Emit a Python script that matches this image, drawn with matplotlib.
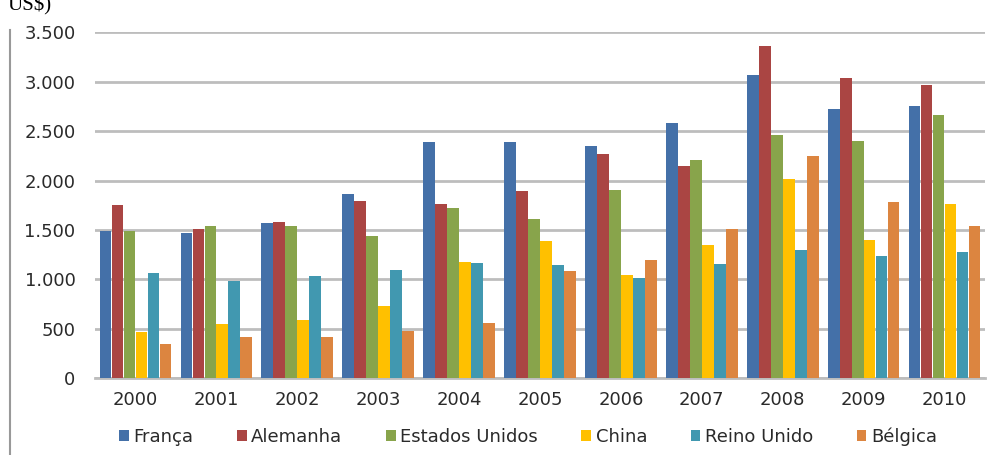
import numpy as np
import matplotlib
matplotlib.use("Agg")
import matplotlib.pyplot as plt
from matplotlib.ticker import FuncFormatter, MultipleLocator

years = ["2000", "2001", "2002", "2003", "2004", "2005",
         "2006", "2007", "2008", "2009", "2010"]

franca = [1490, 1470, 1570, 1860, 2390, 2390, 2350, 2580, 3070, 2720, 2750]
alemanha = [1750, 1510, 1580, 1790, 1760, 1890, 2270, 2150, 3360, 3040, 2970]
estados_unidos = [1490, 1540, 1540, 1440, 1720, 1610, 1900, 2210, 2460, 2400, 2660]
china = [470, 550, 590, 730, 1180, 1390, 1040, 1350, 2020, 1400, 1760]
reino_unido = [1060, 980, 1030, 1090, 1160, 1140, 1010, 1150, 1300, 1240, 1280]
belgica = [345, 420, 420, 480, 560, 1080, 1200, 1510, 2250, 1780, 1540]

series_names = ["França", "Alemanha", "Estados Unidos", "China", "Reino Unido", "Bélgica"]
series_values = [franca, alemanha, estados_unidos, china, reino_unido, belgica]
colors = ["#4470A8", "#AA4543", "#88A44B", "#FFC000", "#4198B0", "#DC8540"]

plt.rcParams["font.family"] = ["DejaVu Sans"]

fig = plt.figure(figsize=(10, 4.55), dpi=100)
ax = fig.add_axes([0.095, 0.169, 0.89, 0.76])

x = np.arange(len(years))
n = len(series_values)
width = 0.148
for i, (name, vals, c) in enumerate(zip(series_names, series_values, colors)):
    offs = (i - (n - 1) / 2) * width
    ax.bar(x + offs, vals, width=width * 0.98, color=c, label=name,
           edgecolor="none", zorder=3)

ax.set_xlim(-0.5, len(years) - 0.5)
ax.set_ylim(0, 3500)
ax.yaxis.set_major_locator(MultipleLocator(500))
ax.yaxis.set_major_formatter(FuncFormatter(lambda v, p: f"{int(v):,}".replace(",", ".")))
ax.set_xticks(x)
ax.set_xticklabels(years)
ax.grid(axis="y", color="#BDBDBD", linewidth=2.0, zorder=0)
for s in ["top", "right", "left"]:
    ax.spines[s].set_visible(False)
ax.spines["bottom"].set_color("#BDBDBD")
ax.spines["bottom"].set_linewidth(2.0)
ax.tick_params(axis="both", length=0, labelsize=13, colors="#2A2A2A")
ax.tick_params(axis="y", pad=14)
ax.tick_params(axis="x", pad=9)

leg = fig.legend(loc="center", bbox_to_anchor=(0.528, 0.04), ncol=6, frameon=False,
                 fontsize=13, handlelength=0.55, handleheight=0.55, handletextpad=0.25,
                 columnspacing=2.4)
for t in leg.get_texts():
    t.set_color("#2A2A2A")

# outer frame line on the left
fig.add_artist(plt.Line2D([0.010, 0.010], [0.0, 0.935], color="#999999", linewidth=1.5))
fig.text(0.008, 0.978, "US$)", fontsize=15, family="Liberation Serif", va="baseline", ha="left")

fig.savefig("out.png", dpi=100)
